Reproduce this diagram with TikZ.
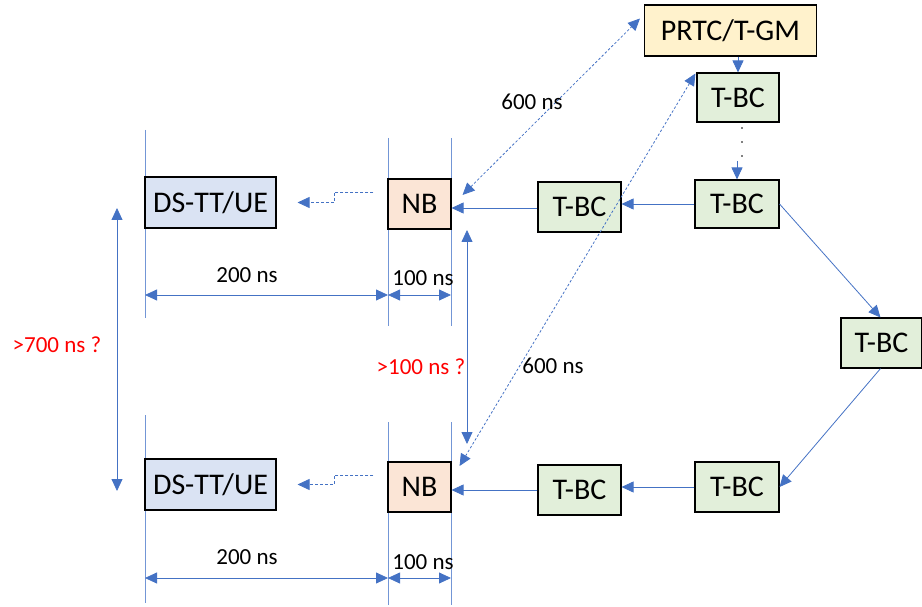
\documentclass[tikz,border=0pt]{standalone}
\usepackage{fontspec}
\setmainfont{Carlito}
\usetikzlibrary{arrows.meta,calc}
\definecolor{lblue}{HTML}{4472C4}
\definecolor{gline}{HTML}{7396D6}
\definecolor{fyel}{HTML}{FFF2CC}
\definecolor{fgrn}{HTML}{E2EFDA}
\definecolor{forg}{HTML}{FBE5D6}
\definecolor{fblu}{HTML}{DAE3F3}
\tikzset{
  box/.style={draw=black, line width=1.1pt, inner sep=0pt, font=\fontsize{30}{34}\selectfont},
  tbc/.style={box, fill=fgrn, minimum width=83pt, minimum height=50pt},
  nbbox/.style={box, fill=forg, minimum width=63pt, minimum height=50pt},
  dsbox/.style={box, fill=fblu, minimum width=131pt, minimum height=51pt},
  tip/.style={-{Triangle[width=11pt,length=12pt]}},
  arr/.style={draw=lblue, line width=0.8pt, tip},
  dim/.style={draw=lblue, line width=0.8pt, {Triangle[width=11pt,length=12pt]}-{Triangle[width=11pt,length=12pt]}},
  dotarr/.style={draw=lblue, line width=0.8pt, dash pattern=on 2.5pt off 2pt, {Triangle[width=11pt,length=12pt]}-{Triangle[width=11pt,length=12pt]}},
  dasharr/.style={draw=lblue, line width=0.8pt, dash pattern=on 3pt off 2pt, tip},
  guide/.style={draw=gline, line width=0.9pt},
  lbl/.style={font=\fontsize{23}{26}\selectfont, inner sep=0pt},
  rlbl/.style={lbl, text=red}
}
\begin{document}
\begin{tikzpicture}[x=1pt,y=-1pt]
\useasboundingbox (0,0) rectangle (922,607);
% guide lines
\draw[guide] (145,130) -- (145,318);
\draw[guide] (388,138) -- (388,326);
\draw[guide] (451,138) -- (451,326);
\draw[guide] (145,415) -- (145,603);
\draw[guide] (388,422) -- (388,605);
\draw[guide] (451,422) -- (451,605);
% nodes
\node[box, fill=fyel, minimum width=172pt, minimum height=51pt] (prtc) at (730.5,30.5) {PRTC/T-GM};
\node[tbc, minimum width=82pt, minimum height=49pt] (tbc0) at (738,97.5) {T-BC};
\node[tbc, minimum width=84pt, minimum height=48pt] (tbc1) at (737,204) {T-BC};
\node[tbc] (tbc2) at (579.5,207) {T-BC};
\node[nbbox] (nb1) at (419.5,204) {NB};
\node[dsbox] (ds1) at (210.5,202.5) {DS-TT/UE};
\node[tbc, minimum width=81pt] (tbc3) at (881.5,343) {T-BC};
\node[tbc, minimum width=84pt] (tbc4) at (737,487) {T-BC};
\node[tbc] (tbc5) at (579.5,490) {T-BC};
\node[nbbox] (nb2) at (419.5,487) {NB};
\node[dsbox, minimum height=51pt] (ds2) at (210.5,484.5) {DS-TT/UE};
% solid connectors
\draw[arr] (tbc0.north |- prtc.south) -- (tbc0.north);
\fill[black] (742,128) circle (0.8pt) (742,142) circle (0.8pt) (742,156) circle (0.8pt);
\coordinate (dotend) at (737,161);
\draw[arr] (dotend) -- (tbc1.north);
\draw[arr] (tbc1.west) -- (tbc1.west -| tbc2.east);
\draw[arr] (tbc2.west |- 0,208) -- (nb1.east |- 0,208);
\draw[arr] (tbc1.east) -- ([xshift=-1pt]tbc3.north);
\draw[arr] ([xshift=-1pt]tbc3.south) -- (tbc4.east);
\draw[arr] (tbc4.west) -- (tbc4.west -| tbc5.east);
\draw[arr] (tbc5.west) -- (tbc5.west -| nb2.east);
% dashed elbows
\draw[dasharr] ([shift={(-14,-12)}]nb1.west) -- ++(-39,0) |- ([xshift=21pt]ds1.east);
\draw[dasharr] ([shift={(-14,-12)}]nb2.west) -- ++(-39,0) |- ([xshift=21pt]ds2.east);
% dotted double arrows
\draw[dotarr] ([shift={(11,-9)}]nb1.east) -- ([shift={(-4,-12)}]prtc.west);
\draw[dotarr] ([shift={(8,-21)}]nb2.east) -- ([shift={(-1,-24)}]tbc0.west);
% dimension arrows
\draw[dim] (145,295) -- (388,295);
\draw[dim] (388,295) -- (451,295);
\draw[dim] (145,578) -- (388,578);
\draw[dim] (388,578) -- (451,578);
\draw[dim] (117,208) -- (117,491);
\draw[dim] (467,230) -- (467,444);
% labels
\node[lbl] (l600a) at (532,102) {600 ns};
\node[lbl] (l600b) at (553,366) {600 ns};
\node[lbl] (l200a) at (247,275) {200 ns};
\node[lbl] (l100a) at (423,278) {100 ns};
\node[lbl] (l200b) at (247,557) {200 ns};
\node[lbl] (l100b) at (423,562) {100 ns};
\node[rlbl] (l700) at (57,345) {>700 ns ?};
\node[rlbl] (l100q) at (421,367) {>100 ns ?};
\end{tikzpicture}
\end{document}
